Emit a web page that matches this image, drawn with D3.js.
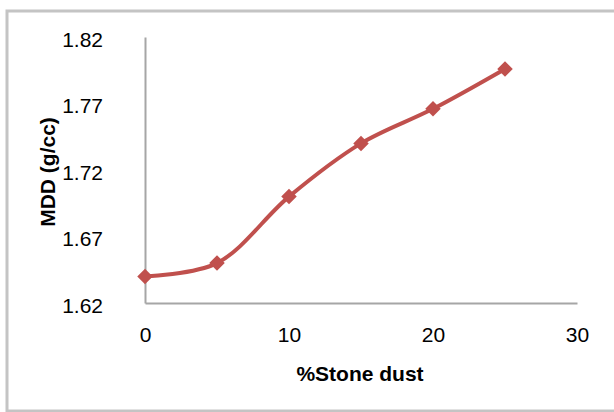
<!DOCTYPE html>
<html>
<head>
<meta charset="utf-8">
<script src="https://cdn.jsdelivr.net/npm/d3@7"></script>
<style>
  body { margin: 0; background: #fff; }
  svg { display: block; }
  text { font-family: "Liberation Sans", Arial, sans-serif; fill: #000; }
</style>
</head>
<body>
<svg id="chart" width="614" height="412"></svg>
<script>
// DATA
const stoneDust = [0, 5, 10, 15, 20, 25];
const mdd = [1.64, 1.65, 1.70, 1.74, 1.766, 1.796];
const xTicks = [0, 10, 20, 30];
const yTicks = [1.62, 1.67, 1.72, 1.77, 1.82];

const svg = d3.select("#chart");

// outer frame
svg.append("rect")
  .attr("x", 7).attr("y", 11)
  .attr("width", 640).attr("height", 400)
  .attr("fill", "none")
  .attr("stroke", "#c4c4c4")
  .attr("stroke-width", 3);

const margin = { top: 37, right: 37, bottom: 109, left: 145 },
  width = 614 - margin.left - margin.right,
  height = 412 - margin.top - margin.bottom;

const g = svg.append("g").attr("transform", `translate(${margin.left},${margin.top})`);

const x = d3.scaleLinear().domain([0, 30]).range([0, width]);
const y = d3.scaleLinear().domain([1.62, 1.82]).range([height, 0]);

// axes (no tick marks, just lines + labels)
const gx = g.append("g")
  .attr("transform", `translate(0,${height})`)
  .call(d3.axisBottom(x).tickValues(xTicks).tickSize(0).tickPadding(24).tickFormat(d3.format("d")));
gx.select(".domain").attr("stroke", "#a6a6a6").attr("stroke-width", 2);
gx.selectAll("text").attr("font-size", 21).attr("font-family", "Liberation Sans, Arial, sans-serif");

const gy = g.append("g")
  .call(d3.axisLeft(y).tickValues(yTicks).tickSize(0).tickPadding(42).tickFormat(d3.format(".2f")));
gy.select(".domain").attr("stroke", "#a6a6a6").attr("stroke-width", 2);
gy.selectAll("text").attr("font-size", 21).attr("dy", "0.45em")
  .attr("font-family", "Liberation Sans, Arial, sans-serif");

// axis titles
svg.append("text")
  .attr("x", 360).attr("y", 381)
  .attr("text-anchor", "middle")
  .attr("font-size", 21).attr("font-weight", "bold")
  .text("%Stone dust");

svg.append("text")
  .attr("transform", "translate(55,172) rotate(-90)")
  .attr("text-anchor", "middle")
  .attr("font-size", 21).attr("font-weight", "bold")
  .text("MDD (g/cc)");

// series
const data = stoneDust.map((d, i) => ({ x: d, y: mdd[i] }));

const line = d3.line()
  .x((d) => x(d.x))
  .y((d) => y(d.y))
  .curve(d3.curveCatmullRom.alpha(0.5));

g.append("path")
  .datum(data)
  .attr("fill", "none")
  .attr("stroke", "#c0504d")
  .attr("stroke-width", 4)
  .attr("d", line);

g.selectAll(".pt")
  .data(data)
  .join("path")
  .attr("class", "pt")
  .attr("d", d3.symbol().type(d3.symbolSquare).size(120))
  .attr("transform", (d) => `translate(${x(d.x)},${y(d.y)}) rotate(45)`)
  .attr("fill", "#c0504d");
</script>
</body>
</html>
